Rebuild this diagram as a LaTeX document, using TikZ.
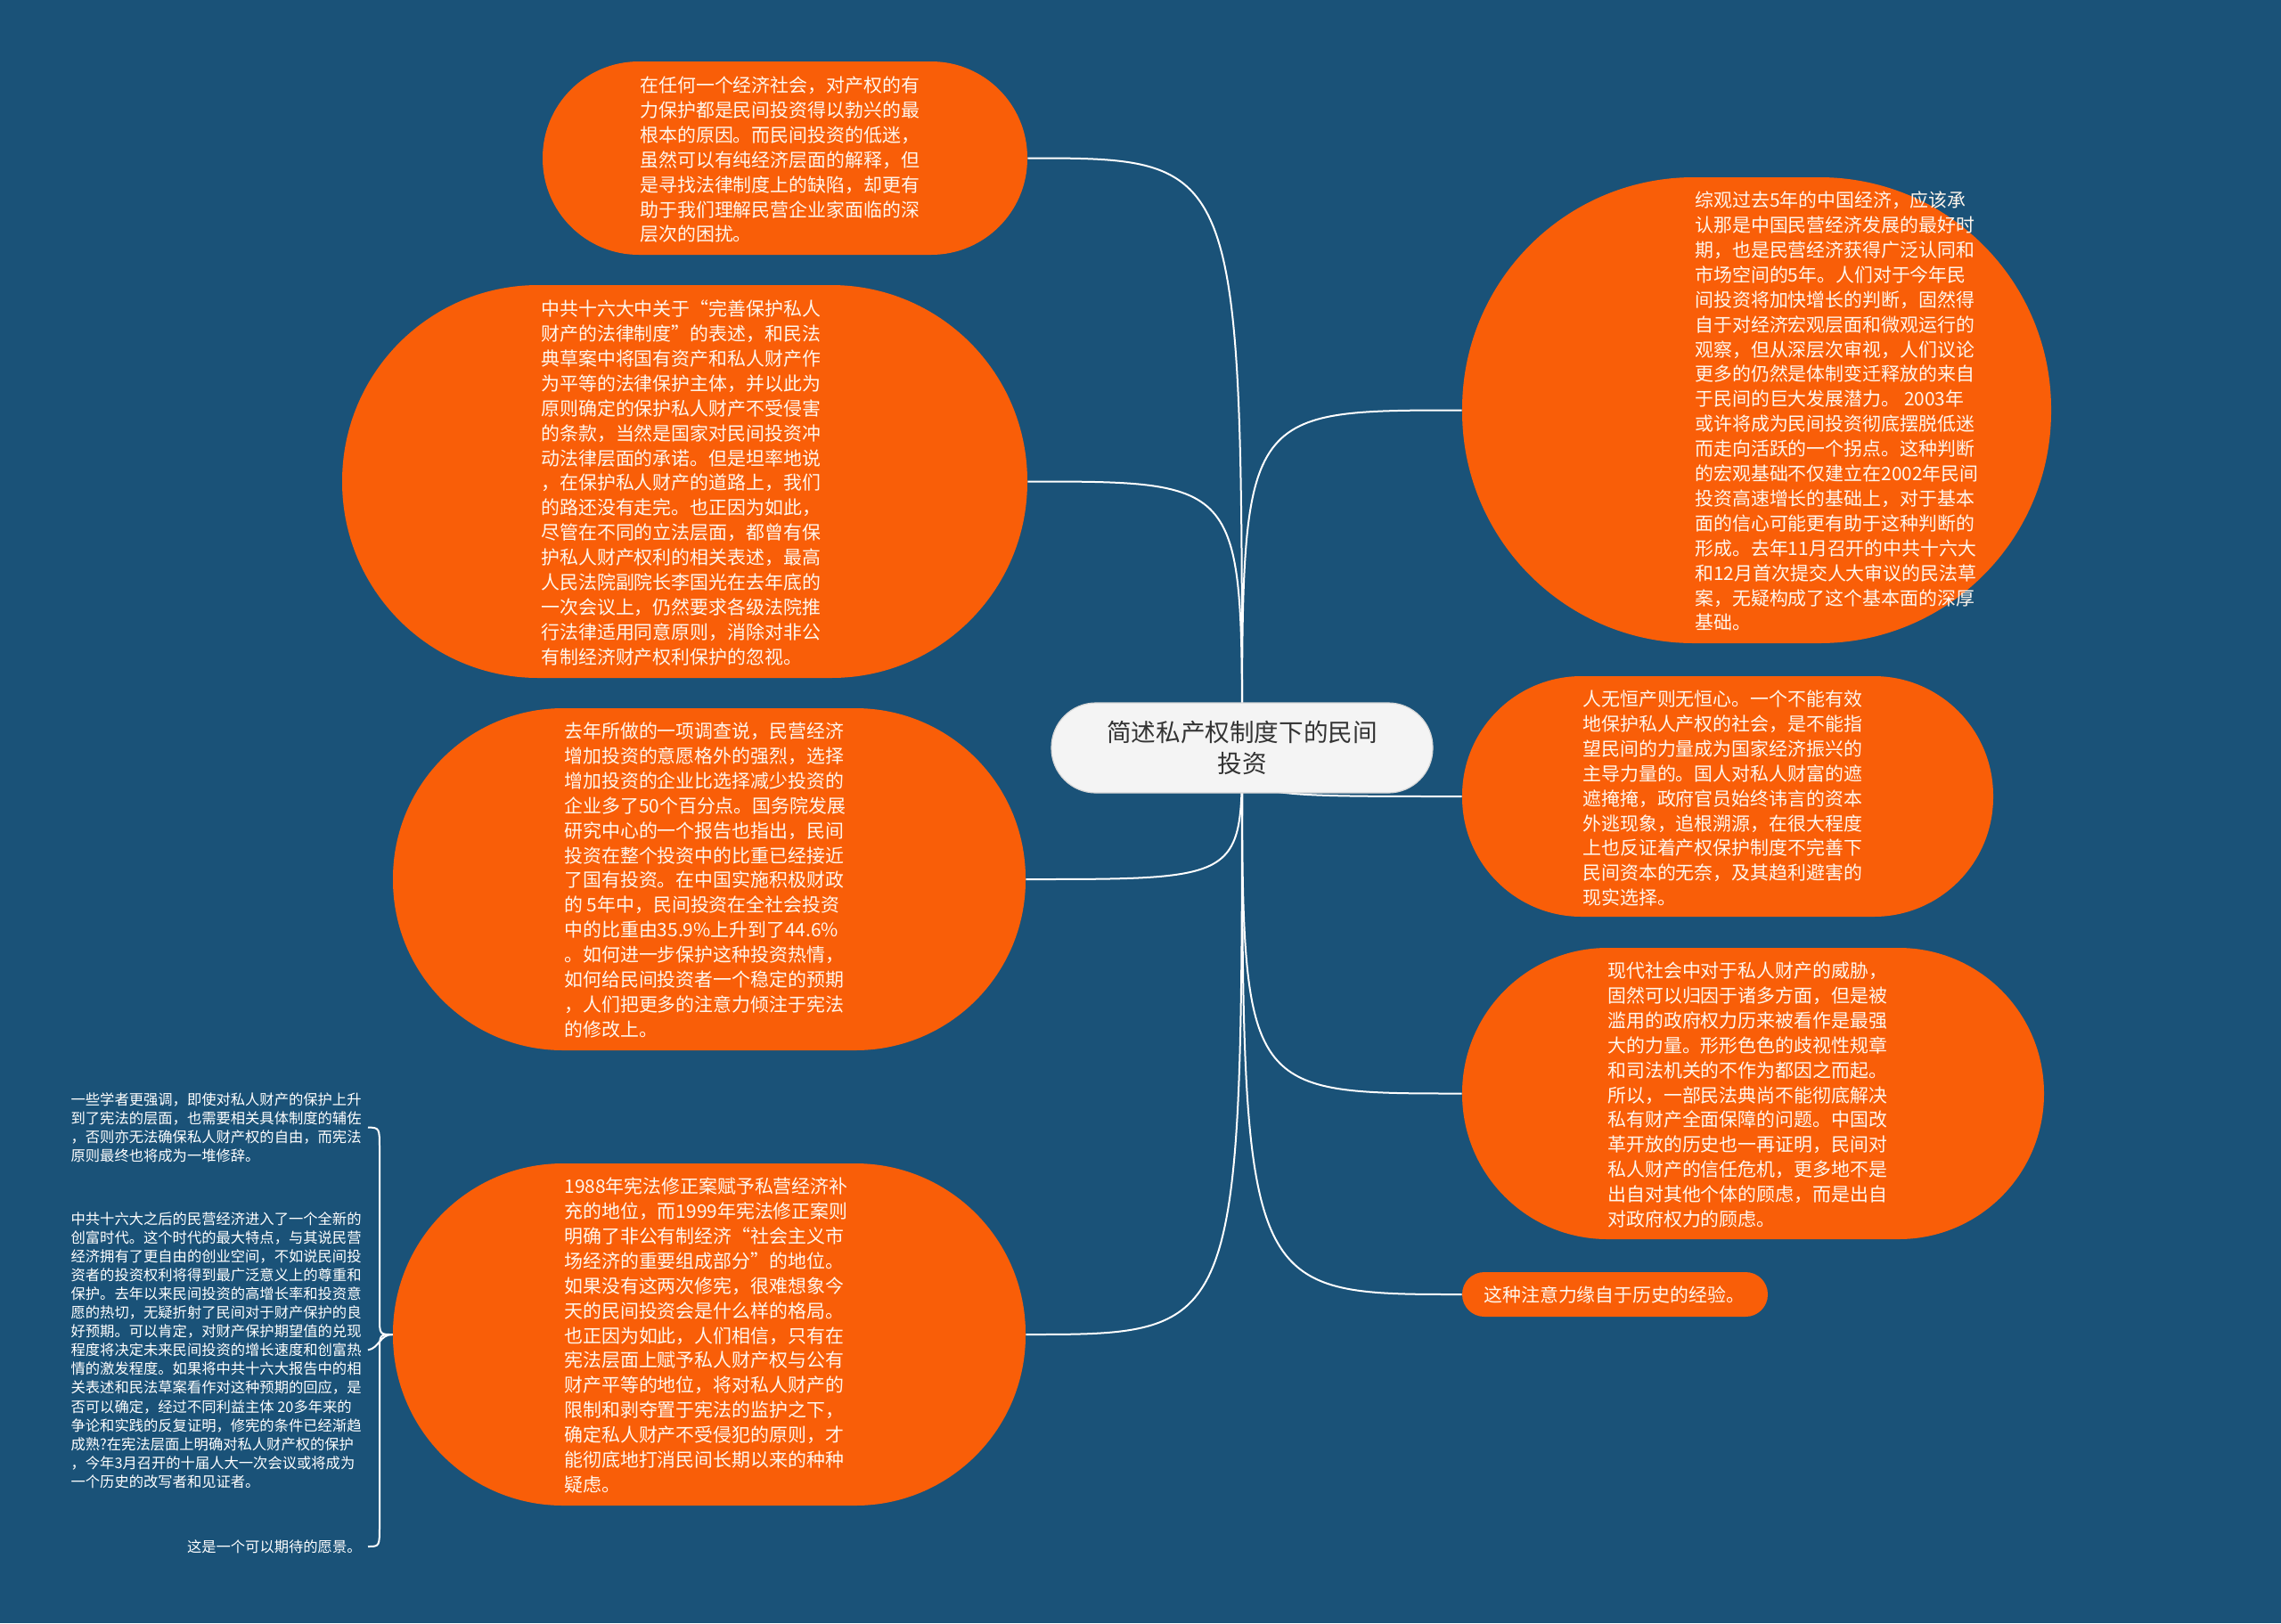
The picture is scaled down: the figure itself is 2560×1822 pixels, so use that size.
\documentclass[tikz,border=0pt]{standalone}
\usepackage{fontspec}
\newfontfamily\cjk{Noto Sans CJK SC}
\usetikzlibrary{backgrounds}
\definecolor{bgblue}{RGB}{26,82,120}
\definecolor{orng}{RGB}{249,94,8}
\definecolor{cream}{RGB}{255,246,236}
\definecolor{ctrfill}{RGB}{244,244,244}
\definecolor{ctrline}{RGB}{215,215,215}
\definecolor{ctrtext}{RGB}{51,51,51}
\pgfdeclarelayer{bottom}
\pgfsetlayers{bottom,background,main}
\begin{document}
\begin{tikzpicture}[x=0.5pt,y=-0.5pt,
  bubble/.style={fill=orng, draw=none, inner sep=0pt, shape=rectangle},
  bodytext/.style={font=\cjk\fontsize{10.45}{13.95}\selectfont, text=cream, align=left, inner sep=0pt, anchor=north west},
  leaftext/.style={font=\cjk\fontsize{8.15}{10.55}\selectfont, text=white, align=left, inner sep=0pt, anchor=east},
  link/.style={draw=white, line width=1pt}]
\useasboundingbox (0,0) rectangle (2560,1822);
\begin{pgfonlayer}{bottom}
\fill[bgblue] (0,0) rectangle (2560,1822);
\end{pgfonlayer}

% central topic
\node[fill=ctrfill, draw=ctrline, line width=0.6pt, minimum width=214pt, minimum height=50.5pt, rounded corners=25pt, inner sep=0pt,
      font=\cjk\fontsize{13.8}{17.8}\selectfont, text=ctrtext, align=center] (c) at (1394,839.5) {简述私产权制度下的民间\\投资};

% bubbles
\node[bubble, minimum width=272pt, minimum height=108.5pt, rounded corners=54pt] (n1) at (881,177.5) {};
\node[bubble, minimum width=384.5pt, minimum height=220.5pt, rounded corners=110pt] (n2) at (768.5,540.5) {};
\node[bubble, minimum width=355pt, minimum height=192pt, rounded corners=95.5pt] (n3) at (796,987) {};
\node[bubble, minimum width=355pt, minimum height=192pt, rounded corners=95.5pt] (n4) at (796,1498) {};
\node[bubble, minimum width=330.5pt, minimum height=261.5pt, rounded corners=130pt] (r1) at (1971.5,460.5) {};
\node[bubble, minimum width=298pt, minimum height=135pt, rounded corners=67pt] (r2) at (1939,894) {};
\node[bubble, minimum width=326.5pt, minimum height=163.5pt, rounded corners=81.5pt] (r3) at (1967.5,1227.5) {};
\node[bubble, minimum width=171.5pt, minimum height=25pt, rounded corners=12.4pt] (r4) at (1812.5,1453) {};

% texts
\node[bodytext] (t1) at (718,85.5) {在任何一个经济社会，对产权的有\\
力保护都是民间投资得以勃兴的最\\
根本的原因。而民间投资的低迷，\\
虽然可以有纯经济层面的解释，但\\
是寻找法律制度上的缺陷，却更有\\
助于我们理解民营企业家面临的深\\
层次的困扰。};

\node[bodytext] (t2) at (607,336.5) {中共十六大中关于“完善保护私人\\
财产的法律制度”的表述，和民法\\
典草案中将国有资产和私人财产作\\
为平等的法律保护主体，并以此为\\
原则确定的保护私人财产不受侵害\\
的条款，当然是国家对民间投资冲\\
动法律层面的承诺。但是坦率地说\\
，在保护私人财产的道路上，我们\\
的路还没有走完。也正因为如此，\\
尽管在不同的立法层面，都曾有保\\
护私人财产权利的相关表述，最高\\
人民法院副院长李国光在去年底的\\
一次会议上，仍然要求各级法院推\\
行法律适用同意原则，消除对非公\\
有制经济财产权利保护的忽视。};

\node[bodytext] (t3) at (633,810.5) {去年所做的一项调查说，民营经济\\
增加投资的意愿格外的强烈，选择\\
增加投资的企业比选择减少投资的\\
企业多了50个百分点。国务院发展\\
研究中心的一个报告也指出，民间\\
投资在整个投资中的比重已经接近\\
了国有投资。在中国实施积极财政\\
的 5年中，民间投资在全社会投资\\
中的比重由35.9\%上升到了44.6\%\\
。如何进一步保护这种投资热情，\\
如何给民间投资者一个稳定的预期\\
，人们把更多的注意力倾注于宪法\\
的修改上。};

\node[bodytext] (t4) at (633,1321.5) {1988年宪法修正案赋予私营经济补\\
充的地位，而1999年宪法修正案则\\
明确了非公有制经济“社会主义市\\
场经济的重要组成部分”的地位。\\
如果没有这两次修宪，很难想象今\\
天的民间投资会是什么样的格局。\\
也正因为如此，人们相信，只有在\\
宪法层面上赋予私人财产权与公有\\
财产平等的地位，将对私人财产的\\
限制和剥夺置于宪法的监护之下，\\
确定私人财产不受侵犯的原则，才\\
能彻底地打消民间长期以来的种种\\
疑虑。};

\node[bodytext] (s1) at (1902,214.5) {综观过去5年的中国经济，应该承\\
认那是中国民营经济发展的最好时\\
期，也是民营经济获得广泛认同和\\
市场空间的5年。人们对于今年民\\
间投资将加快增长的判断，固然得\\
自于对经济宏观层面和微观运行的\\
观察，但从深层次审视，人们议论\\
更多的仍然是体制变迁释放的来自\\
于民间的巨大发展潜力。 2003年\\
或许将成为民间投资彻底摆脱低迷\\
而走向活跃的一个拐点。这种判断\\
的宏观基础不仅建立在2002年民间\\
投资高速增长的基础上，对于基本\\
面的信心可能更有助于这种判断的\\
形成。去年11月召开的中共十六大\\
和12月首次提交人大审议的民法草\\
案，无疑构成了这个基本面的深厚\\
基础。};

\node[bodytext] (s2) at (1776,774.5) {人无恒产则无恒心。一个不能有效\\
地保护私人产权的社会，是不能指\\
望民间的力量成为国家经济振兴的\\
主导力量的。国人对私人财富的遮\\
遮掩掩，政府官员始终讳言的资本\\
外逃现象，追根溯源，在很大程度\\
上也反证着产权保护制度不完善下\\
民间资本的无奈，及其趋利避害的\\
现实选择。};

\node[bodytext] (s3) at (1804,1079.5) {现代社会中对于私人财产的威胁，\\
固然可以归因于诸多方面，但是被\\
滥用的政府权力历来被看作是最强\\
大的力量。形形色色的歧视性规章\\
和司法机关的不作为都因之而起。\\
所以，一部民法典尚不能彻底解决\\
私有财产全面保障的问题。中国改\\
革开放的历史也一再证明，民间对\\
私人财产的信任危机，更多地不是\\
出自对其他个体的顾虑，而是出自\\
对政府权力的顾虑。};

\node[bodytext, anchor=west] (s4) at (1665,1453) {这种注意力缘自于历史的经验。};

% leaves on the left
\node[leaftext] (l1) at (406,1265.5) {一些学者更强调，即使对私人财产的保护上升\\
到了宪法的层面，也需要相关具体制度的辅佐\\
，否则亦无法确保私人财产权的自由，而宪法\\
原则最终也将成为一堆修辞。};

\node[leaftext] (l2) at (406,1515.5) {中共十六大之后的民营经济进入了一个全新的\\
创富时代。这个时代的最大特点，与其说民营\\
经济拥有了更自由的创业空间，不如说民间投\\
资者的投资权利将得到最广泛意义上的尊重和\\
保护。去年以来民间投资的高增长率和投资意\\
愿的热切，无疑折射了民间对于财产保护的良\\
好预期。可以肯定，对财产保护期望值的兑现\\
程度将决定未来民间投资的增长速度和创富热\\
情的激发程度。如果将中共十六大报告中的相\\
关表述和民法草案看作对这种预期的回应，是\\
否可以确定，经过不同利益主体 20多年来的\\
争论和实践的反复证明，修宪的条件已经渐趋\\
成熟?在宪法层面上明确对私人财产权的保护\\
，今年3月召开的十届人大一次会议或将成为\\
一个历史的改写者和见证者。};

\node[leaftext] (l3) at (406,1736) {这是一个可以期待的愿景。};

% connectors
\begin{pgfonlayer}{background}
\draw[link] (c.center) .. controls (c.center |- n1.east) .. (n1.east);
\draw[link] (c.center) .. controls (c.center |- n2.east) .. (n2.east);
\draw[link] (c.center) .. controls (c.center |- n3.east) .. (n3.east);
\draw[link] (c.center) .. controls (c.center |- n4.east) .. (n4.east);
\draw[link] (c.center) .. controls (c.center |- r1.west) .. (r1.west);
\draw[link] (c.center) .. controls (c.center |- r2.west) .. (r2.west);
\draw[link] (c.center) .. controls (c.center |- r3.west) .. (r3.west);
\draw[link] (c.center) .. controls (c.center |- r4.west) .. (r4.west);
\draw[link] (n4.west) .. controls (426,1498) .. (426,1478) -- (426,1290) .. controls (426,1266) .. ([xshift=3.5pt]l1.east);
\draw[link] (n4.west) .. controls (426,1498) and (426,1513) .. ([xshift=3.5pt]l2.east);
\draw[link] (n4.west) .. controls (426,1498) .. (426,1518) -- (426,1712) .. controls (426,1736) .. ([xshift=3.5pt]l3.east);
\end{pgfonlayer}
\end{tikzpicture}
\end{document}
